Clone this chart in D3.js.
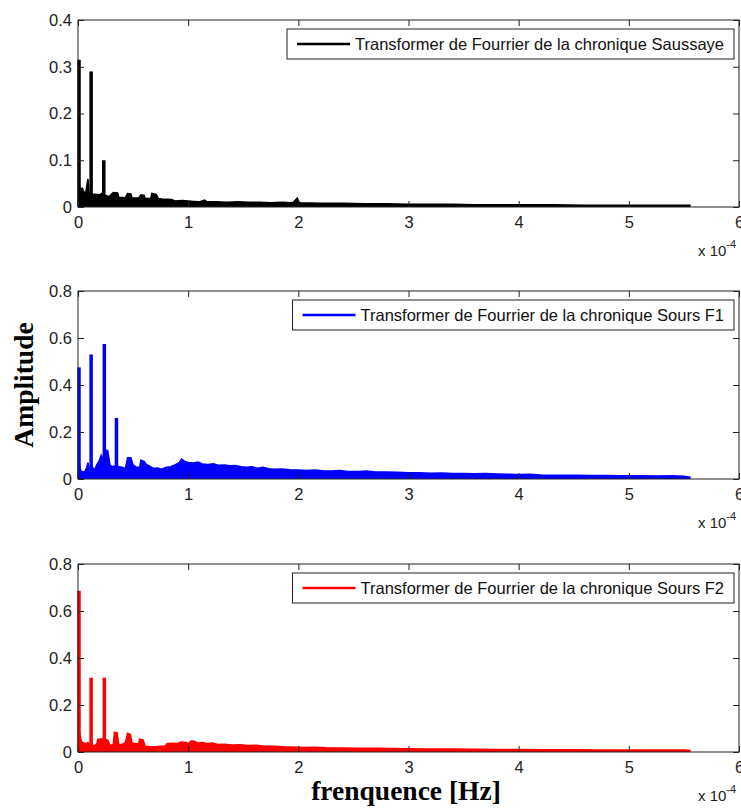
<!DOCTYPE html>
<html>
<head>
<meta charset="utf-8">
<script src="https://cdn.jsdelivr.net/npm/d3@7"></script>
<style>
  body { margin: 0; background: #fff; }
  svg { display: block; }
</style>
</head>
<body>
<div id="chart"></div>
<script>
// Frequencies are in units of 1e-4 Hz (axis shows "x 10^-4")
const xTicks = [0, 1, 2, 3, 4, 5, 6]
const yTicksTop = [0, 0.1, 0.2, 0.3, 0.4]
const yTicksMid = [0, 0.2, 0.4, 0.6, 0.8]
const yTicksBot = [0, 0.2, 0.4, 0.6, 0.8]

const legendLabels = [
    "Transformer de Fourrier de la chronique Saussaye",
    "Transformer de Fourrier de la chronique Sours F1",
    "Transformer de Fourrier de la chronique Sours F2"
]

// Saussaye (black): background level + narrow peaks
const sausBase = [
    [0.00,0.055],[0.01,0.05],[0.02,0.038],[0.04,0.04],[0.05,0.033],[0.07,0.03],[0.09,0.06],[0.10,0.032],
    [0.13,0.028],[0.17,0.027],[0.20,0.026],[0.22,0.03],[0.25,0.025],[0.28,0.022],[0.32,0.031],[0.36,0.03],
    [0.37,0.021],[0.43,0.02],[0.45,0.029],[0.48,0.028],[0.49,0.02],[0.55,0.019],[0.57,0.026],[0.60,0.025],
    [0.61,0.018],[0.66,0.018],[0.67,0.029],[0.71,0.027],[0.73,0.018],[0.76,0.017],[0.85,0.016],[0.88,0.013],
    [0.95,0.014],[1.00,0.013],[1.05,0.012],[1.10,0.011],[1.15,0.015],[1.17,0.011],[1.25,0.011],[1.35,0.01],
    [1.45,0.011],[1.55,0.01],[1.65,0.01],[1.75,0.009],[1.85,0.01],[1.95,0.009],[1.99,0.019],[2.01,0.009],
    [2.2,0.008],[2.4,0.008],[2.6,0.007],[2.8,0.007],[3.0,0.006],[3.2,0.006],[3.4,0.006],[3.6,0.005],
    [3.8,0.005],[4.0,0.005],[4.3,0.005],[4.6,0.004],[5.0,0.004],[5.3,0.004],[5.56,0.004]
]
const sausPeaks = [[0.0,0.315],[0.11,0.29],[0.225,0.10]]

// Sours F1 (blue)
const f1Base = [
    [0.00,0.075],[0.01,0.07],[0.02,0.045],[0.03,0.032],[0.06,0.031],[0.08,0.05],[0.09,0.07],[0.10,0.045],
    [0.13,0.05],[0.15,0.038],[0.17,0.06],[0.19,0.075],[0.21,0.1],[0.22,0.08],[0.245,0.125],[0.27,0.12],
    [0.29,0.06],[0.31,0.052],[0.33,0.055],[0.37,0.052],[0.40,0.05],[0.43,0.045],[0.45,0.09],[0.48,0.09],
    [0.50,0.06],[0.53,0.05],[0.56,0.05],[0.57,0.08],[0.60,0.075],[0.62,0.062],[0.65,0.055],[0.68,0.046],
    [0.72,0.047],[0.76,0.042],[0.80,0.05],[0.84,0.052],[0.88,0.06],[0.92,0.07],[0.94,0.085],[0.97,0.075],
    [1.00,0.07],[1.05,0.068],[1.09,0.072],[1.13,0.064],[1.18,0.062],[1.23,0.065],[1.28,0.058],[1.33,0.06],
    [1.38,0.056],[1.43,0.057],[1.48,0.052],[1.53,0.05],[1.58,0.052],[1.63,0.046],[1.68,0.05],[1.73,0.044],
    [1.78,0.042],[1.85,0.043],[1.92,0.039],[2.00,0.038],[2.08,0.036],[2.15,0.038],[2.22,0.035],[2.30,0.034],
    [2.38,0.036],[2.45,0.032],[2.55,0.032],[2.62,0.034],[2.70,0.03],[2.80,0.03],[2.90,0.029],[3.00,0.027],
    [3.10,0.027],[3.20,0.025],[3.30,0.026],[3.40,0.023],[3.50,0.023],[3.60,0.022],[3.70,0.023],[3.80,0.021],
    [3.90,0.02],[4.00,0.019],[4.10,0.02],[4.20,0.017],[4.35,0.016],[4.50,0.016],[4.65,0.015],[4.80,0.015],
    [4.95,0.014],[5.10,0.014],[5.25,0.013],[5.40,0.014],[5.50,0.012],[5.56,0.008]
]
const f1Peaks = [[0.0,0.475],[0.11,0.53],[0.23,0.575],[0.34,0.26]]

// Sours F2 (red)
const f2Base = [
    [0.00,0.1],[0.01,0.09],[0.02,0.07],[0.03,0.045],[0.05,0.038],[0.07,0.035],[0.09,0.04],[0.12,0.03],
    [0.15,0.028],[0.17,0.032],[0.18,0.054],[0.21,0.055],[0.24,0.056],[0.27,0.05],[0.29,0.03],[0.32,0.03],
    [0.33,0.084],[0.355,0.082],[0.37,0.033],[0.40,0.032],[0.43,0.04],[0.45,0.08],[0.475,0.075],[0.49,0.04],
    [0.52,0.035],[0.55,0.035],[0.56,0.055],[0.59,0.052],[0.61,0.025],[0.65,0.023],[0.70,0.022],[0.75,0.024],
    [0.79,0.025],[0.81,0.036],[0.86,0.037],[0.90,0.036],[0.94,0.042],[0.98,0.04],[1.00,0.036],[1.03,0.048],
    [1.06,0.045],[1.09,0.038],[1.13,0.04],[1.17,0.036],[1.22,0.038],[1.27,0.032],[1.33,0.033],[1.40,0.03],
    [1.47,0.031],[1.55,0.028],[1.62,0.029],[1.70,0.025],[1.78,0.025],[1.86,0.022],[1.95,0.021],[2.05,0.019],
    [2.15,0.02],[2.25,0.018],[2.40,0.017],[2.55,0.016],[2.70,0.016],[2.85,0.015],[3.00,0.014],[3.20,0.013],
    [3.40,0.013],[3.60,0.012],[3.80,0.011],[4.00,0.011],[4.25,0.01],[4.50,0.01],[4.75,0.009],[5.00,0.009],
    [5.25,0.009],[5.50,0.008],[5.56,0.006]
]
const f2Peaks = [[0.0,0.686],[0.11,0.316],[0.23,0.316]]

const panels = [
    { base: sausBase, peaks: sausPeaks, yMax: 0.4, yTicks: yTicksTop, color: "#000000", label: legendLabels[0], top: 20, height: 187 },
    { base: f1Base, peaks: f1Peaks, yMax: 0.8, yTicks: yTicksMid, color: "#0000ff", label: legendLabels[1], top: 291, height: 188 },
    { base: f2Base, peaks: f2Peaks, yMax: 0.8, yTicks: yTicksBot, color: "#ff0000", label: legendLabels[2], top: 564, height: 188 }
]

const dimensions = { width: 741, height: 809, left: 78, right: 739 }
const tickFont = "'Liberation Sans', Arial, sans-serif"

const wrapper = d3.select("#chart").append("svg")
    .attr("width", dimensions.width)
    .attr("height", dimensions.height)

// Shared x scale
const xScale = d3.scaleLinear()
    .domain([0, 6])
    .range([dimensions.left, dimensions.right])

function drawPanel(p) {
    const bottom = p.top + p.height
    const yScale = d3.scaleLinear()
        .domain([0, p.yMax])
        .range([bottom, p.top])

    const g = wrapper.append("g")

    // Background level as a filled area
    const area = d3.area()
        .x(d => xScale(d[0]))
        .y0(yScale(0))
        .y1(d => yScale(d[1]))
    g.append("path")
        .attr("d", area(p.base))
        .attr("fill", p.color)
    const line = d3.line()
        .x(d => xScale(d[0]))
        .y(d => yScale(d[1]))
    g.append("path")
        .attr("d", line(p.base))
        .attr("fill", "none")
        .attr("stroke", p.color)
        .attr("stroke-width", 1.5)

    // Peaks
    g.selectAll(".peak").data(p.peaks).join("line")
        .attr("x1", d => xScale(d[0]) + 1)
        .attr("x2", d => xScale(d[0]) + 1)
        .attr("y1", yScale(0))
        .attr("y2", d => yScale(d[1]))
        .attr("stroke", p.color)
        .attr("stroke-width", 3.5)

    // Frame
    g.append("rect")
        .attr("x", dimensions.left)
        .attr("y", p.top)
        .attr("width", dimensions.right - dimensions.left)
        .attr("height", p.height)
        .attr("fill", "none")
        .attr("stroke", "#222")

    // Axes with inward ticks
    const xAxis = g.append("g")
        .attr("transform", `translate(0,${bottom})`)
        .call(d3.axisBottom(xScale).tickValues(xTicks).tickSizeInner(-6).tickSizeOuter(0).tickPadding(6).tickFormat(d3.format("")))
    g.append("g")
        .attr("transform", `translate(0,${p.top})`)
        .call(d3.axisTop(xScale).tickValues(xTicks).tickSizeInner(-6).tickSizeOuter(0).tickFormat(""))
    const yAxis = g.append("g")
        .attr("transform", `translate(${dimensions.left},0)`)
        .call(d3.axisLeft(yScale).tickValues(p.yTicks).tickSizeInner(-6).tickSizeOuter(0).tickPadding(6).tickFormat(d3.format("")))
    g.append("g")
        .attr("transform", `translate(${dimensions.right},0)`)
        .call(d3.axisRight(yScale).tickValues(p.yTicks).tickSizeInner(-6).tickSizeOuter(0).tickFormat(""))

    g.selectAll(".domain").remove()
    g.selectAll(".tick line").attr("stroke", "#222")
    g.selectAll(".tick text")
        .attr("fill", "#222")
        .style("font-family", tickFont)
        .style("font-size", "16.5px")
    xAxis.selectAll(".tick text").attr("dy", "0.9em")

    // Exponent label
    const ex = g.append("text")
        .attr("x", 698)
        .attr("y", bottom + 49)
        .attr("fill", "#222")
        .style("font-family", tickFont)
        .style("font-size", "15px")
        .text("x 10")
    ex.append("tspan")
        .attr("dy", -8)
        .style("font-size", "11px")
        .text("-4")

    // Legend
    const legend = g.append("g")
    const legText = legend.append("text")
        .attr("y", p.top + 24 + 6)
        .style("font-family", tickFont)
        .style("font-size", "16.5px")
        .attr("fill", "#111")
        .text(p.label)
    const tw = legText.node().getComputedTextLength()
    const boxRight = 734
    const boxX = boxRight - 10 - tw - 68
    legText.attr("x", boxX + 68)
    legend.insert("rect", "text")
        .attr("x", boxX)
        .attr("y", p.top + 9)
        .attr("width", boxRight - boxX)
        .attr("height", 30)
        .attr("fill", "#fff")
        .attr("stroke", "#222")
    legend.append("line")
        .attr("x1", boxX + 10)
        .attr("x2", boxX + 63)
        .attr("y1", p.top + 24)
        .attr("y2", p.top + 24)
        .attr("stroke", p.color)
        .attr("stroke-width", 2.5)
}

panels.forEach(drawPanel)

// Axis titles
wrapper.append("text")
    .attr("transform", "translate(33,385) rotate(-90)")
    .attr("text-anchor", "middle")
    .style("font-family", "'Liberation Serif', 'Times New Roman', serif")
    .style("font-weight", "bold")
    .style("font-size", "27.5px")
    .text("Amplitude")

wrapper.append("text")
    .attr("x", 406)
    .attr("y", 800)
    .attr("text-anchor", "middle")
    .style("font-family", "'Liberation Serif', 'Times New Roman', serif")
    .style("font-weight", "bold")
    .style("font-size", "27.5px")
    .text("frenquence [Hz]")
</script>
</body>
</html>
